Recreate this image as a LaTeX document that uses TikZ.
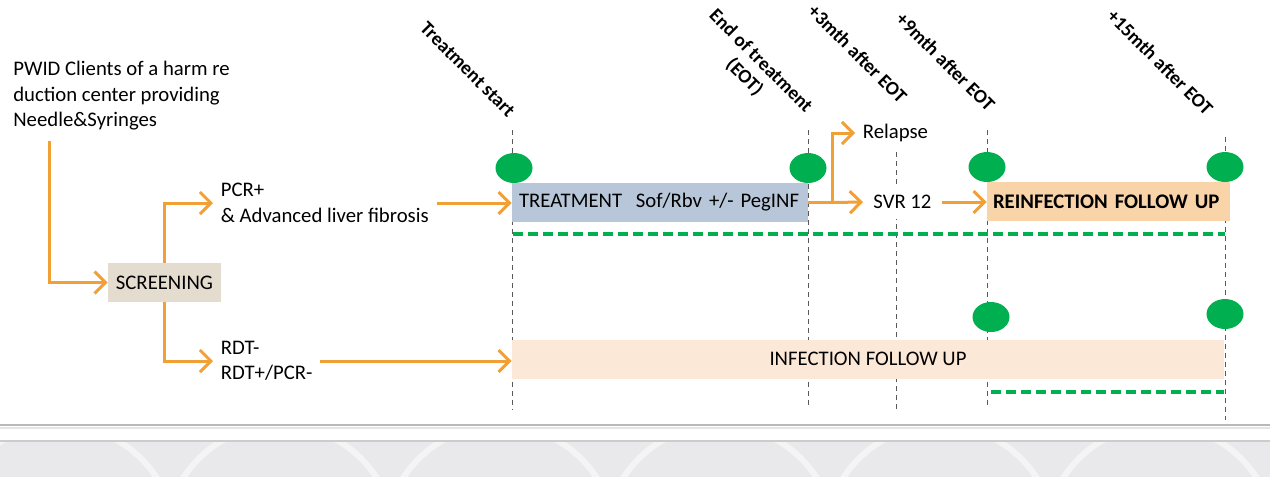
\documentclass[tikz,border=0pt]{standalone}
\usepackage{fontspec}
\setmainfont{Carlito}
\usepackage{tikz}
\usetikzlibrary{shapes,arrows.meta,positioning}
\definecolor{flowyellow}{HTML}{F0A035}
\definecolor{treatblue}{HTML}{B8C6D9}
\definecolor{reinforange}{HTML}{F8D4A8}
\definecolor{infectpeach}{HTML}{FCE8D7}
\definecolor{screenbeige}{HTML}{E5DCD0}
\definecolor{visitgreen}{HTML}{00B050}
\definecolor{bandgray}{HTML}{E9E9EB}
\newcommand{\diagfont}{\fontsize{11.8}{14.5}\selectfont}
\newcommand{\datefont}{\fontsize{11}{13}\selectfont\bfseries}
\tikzstyle{block} = [rectangle, inner sep=0pt, minimum height=0.78cm]
\tikzstyle{textnode} = [align=left, inner sep=0.15cm]
\tikzstyle{datelabel} = [rotate=-45, inner sep=0pt, font=\datefont]
\tikzstyle{visit} = [ellipse, fill=visitgreen, minimum width=0.74cm, minimum height=0.6cm, inner sep=0pt]
\tikzstyle{timeline} = [draw=black!65, line width=0.02cm, dash pattern=on 0.1cm off 0.08cm]
\tikzstyle{followline} = [draw=visitgreen, line width=0.07cm, dash pattern=on 0.2cm off 0.1cm]
\tikzstyle{line} = [draw=flowyellow, line width=0.06cm, -{Straight Barb[length=0.22cm, width=0.44cm]}]

\begin{document}
\begin{tikzpicture}[x=0.02cm, y=-0.02cm, font=\diagfont]
        \useasboundingbox (0,0) rectangle (1270,477);
        % Bottom band
        \begin{scope}
            \clip (0,441) rectangle (1270,477);
            \fill[bandgray] (0,441) rectangle (1270,477);
            \foreach \cx in {60,280,...,1380}
                \draw[white, line width=0.12cm, opacity=0.5] (\cx,540) circle (2.3cm);
        \end{scope}
        \draw[gray!55, line width=0.04cm] (0,425) -- (1270,425);
        \draw[gray!20, line width=0.04cm] (0,428) -- (1270,428);
        \draw[gray!40, line width=0.04cm] (0,441) -- (1270,441);
        % Time marks
        \foreach \tx/\ttop/\tbot in {512/130/410, 808/130/408, 896/152/409, 987/130/407, 1225/137/420}
            \path[timeline] (\tx,\ttop) -- (\tx,\tbot);
        \path[followline] (513,234) -- (1225,234);
        \path[followline] (991,392) -- (1224,392);
        % Place nodes
        \node[textnode, inner sep=0pt, anchor=west] (pwid) at (13,96) {PWID Clients of a harm re\\duction center providing\\Needle\&Syringes};
        \coordinate (pwidfoot) at (49,141);
        \node[block, fill=screenbeige, minimum width=2.26cm] (screen) at (164.5,282.5) {SCREENING};
        \node[textnode, anchor=west] (pcr) at (213,203) {PCR+\\\& Advanced liver fibrosis};
        \node[textnode, anchor=west] (rdt) at (213,361) {RDT-\\RDT+/PCR-};
        \node[block, fill=treatblue, minimum width=5.92cm, text width=5.64cm, align=left] (treat) at (660,202.5) {TREATMENT\ \ Sof/Rbv +/- PegINF};
        \coordinate (split) at (832,202.5);
        \node[textnode, anchor=west] (relapse) at (855,133) {Relapse};
        \node[textnode, fill=white, inner sep=0.2cm, anchor=west] (svr) at (863,202) {SVR 12};
        \node[block, fill=reinforange, minimum width=4.86cm, text width=4.62cm, align=left, font=\diagfont\bfseries] (reinf) at (1108.5,201.5) {REINFECTION FOLLOW UP};
        \node[block, fill=infectpeach, minimum width=14.24cm] (infect) at (868,359) {INFECTION FOLLOW UP};
        % Visits
        \node[visit] (v1) at (514,168) {};
        \node[visit] (v2) at (808,168) {};
        \node[visit] (v3) at (987,167) {};
        \node[visit] (v4) at (1225,167) {};
        \node[visit] (v5) at (991,317) {};
        \node[visit] (v6) at (1225,314) {};
        % Time labels
        \node[datelabel, anchor=east] (tstart) at (512,114) {Treatment start};
        \node[datelabel, anchor=east, align=center] (eot) at (801,118) {End of treatment\\(EOT)};
        \node[datelabel, anchor=east] (m3) at (904,100) {+3mth after EOT};
        \node[datelabel, anchor=east] (m9) at (992,108) {+9mth after EOT};
        \node[datelabel, anchor=east] (m15) at (1210,112) {+15mth after EOT};
        % Draw edges
        \path[line] (pwidfoot) |- (screen.west);
        \path[line] (screen.north) |- (pcr.west);
        \path[line] (screen.south) |- (rdt.west);
        \path[line] (pcr.east) -- (pcr.east -| treat.west);
        \path[line] (rdt.east) -- (rdt.east -| infect.west);
        \path[line] (treat.east) -- (split) |- (relapse.west);
        \path[line] (split) -- (svr.west);
        \path[line] (svr.east) -- (svr.east -| reinf.west);
\end{tikzpicture}
\end{document}
